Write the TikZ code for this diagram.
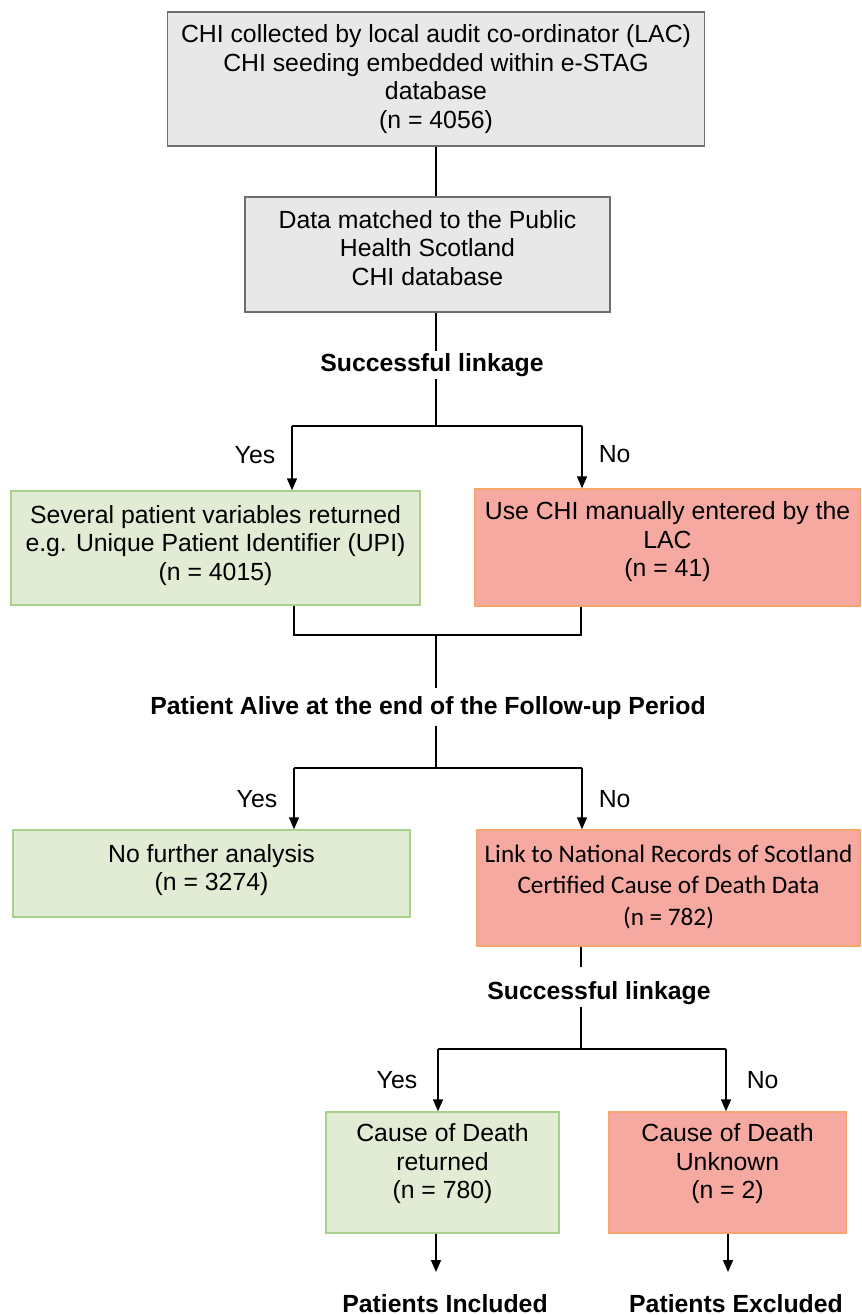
\documentclass[tikz,border=0pt]{standalone}
\usepackage{fontspec}
\setmainfont{Liberation Sans}
\newfontfamily\calibri{Carlito}
\usetikzlibrary{arrows.meta}

\definecolor{greyfill}{HTML}{E8E8E8}
\definecolor{greyline}{HTML}{6E6E6E}
\definecolor{yesfill}{HTML}{E2EBD4}
\definecolor{yesline}{HTML}{A9D18E}
\definecolor{nofill}{HTML}{F5A9A1}
\definecolor{noline}{HTML}{F8A66E}

\begin{document}
\begin{tikzpicture}[x=0.5pt, y=-0.5pt,
    every node/.style={font=\fontsize{12.4}{14.25}\selectfont, align=center, inner sep=1pt},
    greybox/.style={draw=greyline, fill=greyfill, line width=0.8pt},
    yesbox/.style={draw=yesline, fill=yesfill, line width=0.7pt},
    nobox/.style={draw=noline, fill=nofill, line width=0.7pt},
    question/.style={font=\fontsize{12.4}{14.25}\selectfont\bfseries},
    link/.style={line width=1.4pt},
    arr/.style={line width=0.8pt, -{Triangle[length=6pt, width=5pt]}}]
    \useasboundingbox (0, 0) rectangle (861, 1315);

    % boxes
    \node[greybox, minimum width=268.5pt, minimum height=67pt] at (436, 79) (chi)
        {CHI collected by local audit co-ordinator (LAC)\\CHI seeding embedded within e-STAG\\database\\(n = 4056)};
    \node[greybox, minimum width=182.5pt, minimum height=57.5pt] at (427.5, 254.5) (match)
        {Data matched to the Public\\Health Scotland\\CHI database\\[-7.7pt]};
    \node[yesbox, minimum width=204.5pt, minimum height=57pt] at (215.5, 548) (upi)
        {Several patient variables returned\\e.g. Unique Patient Identifier (UPI)\\(n = 4015)\\[-9.2pt]};
    \node[nobox, minimum width=192.5pt, minimum height=58.5pt] at (667.5, 547.5) (lac)
        {Use CHI manually entered by the\\LAC\\(n = 41)\\[-6.2pt]};
    \node[yesbox, minimum width=198.5pt, minimum height=43.5pt] at (211.5, 873.5) (nofurther)
        {No further analysis\\(n = 3274)\\[-8.2pt]};
    \node[nobox, minimum width=191.5pt, minimum height=58pt] at (668.5, 888) (nrs)
        {\fontsize{12.6}{14.25}\calibri Link to National Records of Scotland\\[1.5pt]\fontsize{12.6}{14.25}\calibri Certified Cause of Death Data\\[1.5pt]\fontsize{12.6}{14.25}\calibri (n = 782)\\[-11.2pt]};
    \node[yesbox, minimum width=116.5pt, minimum height=60.5pt] at (442.5, 1172.5) (cod)
        {Cause of Death\\returned\\(n = 780)\\[-3.2pt]};
    \node[nobox, minimum width=118.5pt, minimum height=60.5pt] at (727.5, 1172.5) (unk)
        {Cause of Death\\Unknown\\(n = 2)\\[-3.2pt]};

    % questions and outcomes
    \node[question] at (432, 365) (link1) {Successful linkage};
    \node[question] at (428, 708) (alive) {Patient Alive at the end of the Follow-up Period};
    \node[question] at (599, 993) (link2) {Successful linkage};
    \node[question, anchor=base] at (445, 1312) (incl) {Patients Included};
    \node[question, anchor=base] at (736, 1312) (excl) {Patients Excluded};

    % junctions
    \coordinate (j1) at (436, 426);
    \coordinate (y1) at (292, 426);
    \coordinate (n1) at (582, 426);
    \coordinate (m1) at (436, 635);
    \coordinate (j2) at (436, 768);
    \coordinate (y2) at (294, 768);
    \coordinate (n2) at (582, 768);
    \coordinate (j3) at (581, 1049);
    \coordinate (y3) at (438, 1049);
    \coordinate (n3) at (726, 1049);

    \draw[link] (chi.south -| j1) -- (match.north -| j1);
    \draw[link] (match.south -| j1) -- (link1.north -| j1);
    \draw[link] (link1.south -| j1) -- (j1);
    \draw[link] (y1) -- (n1);
    \draw[arr] (y1) -- (y1 |- upi.north) node[pos=0.45, left=7pt] {Yes};
    \draw[arr] (n1) -- (n1 |- lac.north) node[pos=0.45, right=7pt] {No};

    \draw[link] (upi.south -| 294, 0) -- (294, 635);
    \draw[link] (lac.south -| 581, 0) -- (581, 635);
    \draw[link] (293, 635) -- (582, 635);
    \draw[link] (m1) -- ([yshift=3pt]alive.north -| m1);
    \draw[link] ([yshift=-2pt]alive.south -| m1) -- (j2);
    \draw[link] (y2) -- (n2);
    \draw[arr] (y2) -- (y2 |- nofurther.north) node[midway, left=7pt] {Yes};
    \draw[arr] (n2) -- (n2 |- nrs.north) node[midway, right=7pt] {No};

    \draw[link] (nrs.south -| j3) -- ([yshift=6pt]link2.north -| j3);
    \draw[link] (link2.south -| j3) -- (j3);
    \draw[link] (y3) -- (n3);
    \draw[arr] (y3) -- (y3 |- cod.north) node[midway, left=9pt] {Yes};
    \draw[arr] (n3) -- (n3 |- unk.north) node[midway, right=9pt] {No};

    \draw[arr] (cod.south -| 436, 0) -- (436, 1272);
    \draw[arr] (unk.south -| 728, 0) -- (728, 1272);
\end{tikzpicture}
\end{document}
